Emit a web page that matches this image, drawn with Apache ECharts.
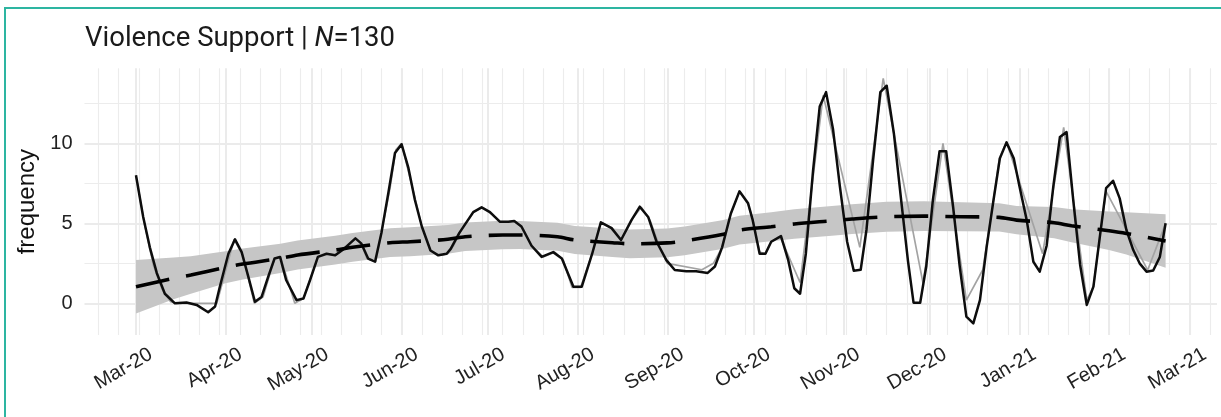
<!DOCTYPE html>
<html>
<head>
<meta charset="utf-8">
<script src="https://cdn.jsdelivr.net/npm/echarts@6/dist/echarts.min.js"></script>
<style>
html,body{margin:0;padding:0;background:#ffffff;}
#wrap{position:relative;width:1221px;height:417px;overflow:hidden;background:#fff;}
#c{position:absolute;left:0;top:0;width:1221px;height:417px;}
#frame{position:absolute;left:4px;top:7px;width:1400px;height:600px;border:2px solid #2db5a1;box-sizing:border-box;pointer-events:none;}
</style>
</head>
<body>
<div id="wrap"><div id="c"></div><div id="frame"></div></div>
<script>
// ---------------- data (x = days since 2020-03-01) ----------------
const START_DATE = '2020-03-01';

const blackDays = [0,2.5,4.8,7.2,10,13.5,17.5,21,25,27.4,
  29,32,34.3,36.6,38.9,41.2,43.5,45.8,48,49.9,
  52,55.6,58,60.3,63,66,69,72,76,78,
  80.4,82.8,85,87.4,89.7,92,94.3,96.6,99,102,
  104.7,107.6,109,112,116.8,119.7,122.6,126,129,131,
  133.5,137,140.5,144.5,147.5,151.5,154.4,158,161,164.7,
  168,171.6,174.5,177.4,180.3,183.7,186.6,190.6,194,198,
  200.5,203,206,209,212,213.6,216,218,220,223.4,
  225.9,228,230,232,234.5,236.8,239,241.4,243.8,246.3,
  248.6,251,253,255.3,257.8,260,262.5,265,267.4,269.3,
  271.6,273.7,276,278.3,280.6,283,285.3,287.6,290,292.3,
  294.6,297,299.2,301.5,304,306,308.5,310.8,313,315.4,
  317.7,320,322.3,324.6,327,329.3,331.6,334,336,338.4,
  340.7,343,345.4,347.6,350,352.3,354.6,356.6];
const blackValues = [8.0,5.4,3.5,1.9,0.6,0.0,0.05,-0.1,-0.56,-0.2,
  1.0,3.1,4.0,3.2,1.67,0.1,0.4,1.67,2.8,2.9,
  1.46,0.2,0.3,1.46,2.9,3.1,3.0,3.4,4.06,3.75,
  2.8,2.6,4.4,6.9,9.4,9.94,8.5,6.46,4.8,3.3,
  3.0,3.1,3.4,4.4,5.7,6.0,5.7,5.1,5.1,5.15,
  4.8,3.6,2.9,3.2,2.8,1.04,1.04,3.1,5.06,4.7,
  3.96,5.2,6.04,5.4,3.85,2.7,2.08,2.0,2.0,1.9,
  2.3,3.5,5.6,7.0,6.25,5.2,3.1,3.1,3.85,4.2,
  2.7,0.94,0.6,3.1,8.3,12.3,13.2,10.9,7.3,3.85,
  2.04,2.1,4.6,8.96,13.2,13.6,10.6,6.46,2.6,0.04,
  0.04,2.3,6.46,9.5,9.5,6.04,2.3,-0.83,-1.25,0.2,
  3.5,6.46,9.06,10.06,9.06,7.3,5.2,2.6,1.98,3.6,
  7.3,10.4,10.7,6.46,2.4,-0.1,1.04,4.4,7.2,7.66,
  6.56,4.6,3.33,2.5,1.98,2.05,2.9,5.0];

const grayDays = [0,3,6,9,12,14,28,34,37,41,
  44,48,50,55,58,63,66,69,72,76,
  78,80,83,85,88,90,92,94,97,99,
  102,105,108,110,112,117,120,123,126,129,
  131,134,137,141,145,148,151,154,158,161,
  165,168,172,175,178,181,184,196,200,203,
  206,209,212,214,216,218,220,223,230,238,
  250.7,258.8,272.6,279.5,287.6,293.3,297,299,301.5,314,
  321.3,329.3,331.6,334,336,350.4,356.6];
const grayValues = [8.0,4.9,2.4,0.9,0.1,0.0,0.0,4.0,3.0,0.0,
  0.4,2.8,2.9,0.0,0.3,2.9,3.1,3.0,3.4,4.06,
  3.75,2.8,2.6,4.4,7.2,9.6,10.0,8.5,6.3,4.8,
  3.3,3.0,3.1,3.6,4.4,5.7,6.0,5.6,5.1,5.1,
  5.15,4.7,3.6,2.9,3.2,2.7,1.0,1.0,3.1,5.06,
  4.7,3.96,5.3,6.0,5.2,3.7,2.5,2.1,2.5,3.5,
  5.6,7.0,6.2,5.0,3.2,3.1,3.85,4.2,1.3,13.0,
  3.5,14.06,1.25,10.0,0.2,2.1,6.46,9.06,10.1,3.1,
  11.0,0.2,1.04,4.4,7.0,2.08,5.0];

const trendDays = [0,13,19,31,37,50,56,69,75,88,95,108,114,127,133,146,152,165,171,184,
  190,203,209,220,228,241,248,260,273,286,299,305,318,324,337,343,356.6];
const trendValues = [1.04,1.56,1.77,2.25,2.46,2.81,3.02,3.33,3.5,3.79,3.85,4.0,4.16,4.27,4.27,4.16,3.96,3.79,3.72,3.78,
  3.9,4.3,4.58,4.79,4.96,5.16,5.27,5.41,5.45,5.41,5.37,5.2,5.04,4.85,4.54,4.37,3.89];
const bandLower = [-0.63,0.26,0.60,1.25,1.49,1.89,2.11,2.43,2.6,2.89,2.95,3.1,3.27,3.38,3.39,3.28,3.08,2.9,2.82,2.88,
  3.0,3.4,3.68,3.88,4.04,4.23,4.34,4.47,4.52,4.51,4.49,4.32,4.06,3.82,3.34,3.05,2.22];
const bandUpper = [2.71,2.86,2.94,3.25,3.43,3.73,3.93,4.23,4.4,4.69,4.75,4.9,5.05,5.16,5.15,5.04,4.84,4.68,4.62,4.68,
  4.8,5.2,5.48,5.7,5.88,6.09,6.2,6.35,6.38,6.31,6.25,6.08,6.02,5.88,5.74,5.69,5.56];

const monthLabels = ['Mar-20','Apr-20','May-20','Jun-20','Jul-20','Aug-20','Sep-20','Oct-20','Nov-20','Dec-20','Jan-21','Feb-21','Mar-21'];
const monthStarts = ['2020-03-01','2020-04-01','2020-05-01','2020-06-01','2020-07-01','2020-08-01','2020-09-01',
  '2020-10-01','2020-11-01','2020-12-01','2021-01-01','2021-02-01','2021-03-01'];
const yLabelValues = [0,5,10];
const yMajorGrid = [0,5,10];
const yMinorGrid = [2.5,7.5,12.5];
const firstMonday = '2020-02-17';

// ---------------- helpers ----------------
const DAY = 86400000;
const ts = s => Date.parse(s + 'T00:00:00Z');
const t0 = ts(START_DATE);
const dayOf = s => Math.round((ts(s) - t0) / DAY);
const pairs = (ds, vs) => ds.map((d, i) => [d, vs[i]]);

const xMin = -17.83;
const xMax = 374.4;
const labelShift = 5.2;
const monthDays = monthStarts.map(dayOf);
const labelPos = monthDays.map(d => d + labelShift);

const vLines = [];
for (let d = dayOf(firstMonday); d <= xMax; d += 7) {
  vLines.push({ xAxis: d, lineStyle: { width: 1.1, color: '#ececec' } });
}
monthDays.forEach(d => vLines.push({ xAxis: d, lineStyle: { width: 2, color: '#ebebeb' } }));
const hLines = yMinorGrid.map(v => ({ yAxis: v, lineStyle: { width: 1.1, color: '#ececec' } }))
  .concat(yMajorGrid.map(v => ({ yAxis: v, lineStyle: { width: 1.8, color: '#ebebeb' } })));

const axisFont = 'Liberation Sans, Arial, sans-serif';

const chart = echarts.init(document.getElementById('c'), null, { renderer: 'canvas' });
chart.setOption({
  animation: false,
  backgroundColor: '#ffffff',
  title: {
    left: 85, top: 24, padding: 0,
    text: '{a|Violence Support | }{b|N}{a|=130}',
    textStyle: {
      fontWeight: 'normal',
      rich: {
        a: { fontFamily: 'Roboto', fontSize: 27.5, fontWeight: 'normal', color: '#1a1a1a', lineHeight: 30 },
        b: { fontFamily: 'Roboto', fontSize: 27.5, fontWeight: 'normal', fontStyle: 'italic', color: '#1a1a1a', lineHeight: 30 }
      }
    }
  },
  grid: { left: 84.5, right: 4, top: 68.3, bottom: 82, containLabel: false, outerBoundsMode: 'none' },
  xAxis: {
    type: 'value', min: xMin, max: xMax,
    axisLine: { show: false }, axisTick: { show: false },
    splitLine: { show: false }, minorSplitLine: { show: false },
    axisLabel: {
      customValues: labelPos,
      rotate: 30, margin: 18,
      fontFamily: axisFont, fontSize: 20, color: '#222222',
      formatter: function (val) {
        let best = 0, bd = Infinity;
        labelPos.forEach((p, i) => { const d = Math.abs(p - val); if (d < bd) { bd = d; best = i; } });
        return monthLabels[best];
      }
    }
  },
  yAxis: {
    type: 'value', min: -1.98, max: 14.69,
    name: 'frequency', nameLocation: 'middle', nameGap: 44,
    nameTextStyle: { fontFamily: axisFont, fontSize: 24, color: '#111111' },
    axisLine: { show: false }, axisTick: { show: false },
    splitLine: { show: false },
    axisLabel: { customValues: yLabelValues, margin: 12, fontFamily: axisFont, fontSize: 20, color: '#222222' }
  },
  series: [
    {
      name: 'grid', type: 'line', data: [], z: 0, silent: true,
      markLine: {
        z: 0, zlevel: 0,
        silent: true, symbol: ['none', 'none'], label: { show: false }, animation: false,
        lineStyle: { type: 'solid' },
        emphasis: { disabled: true },
        data: vLines.concat(hLines)
      }
    },
    {
      name: 'band', type: 'custom', z: 2, silent: true,
      data: [[trendDays[0], bandLower[0]]],
      renderItem: function (params, api) {
        const pts = [];
        for (let i = 0; i < trendDays.length; i++) pts.push(api.coord([trendDays[i], bandUpper[i]]));
        for (let i = trendDays.length - 1; i >= 0; i--) pts.push(api.coord([trendDays[i], bandLower[i]]));
        return { type: 'polygon', shape: { points: pts }, style: { fill: '#c6c6c6', stroke: null } };
      }
    },
    {
      name: 'raw', type: 'line', data: pairs(grayDays, grayValues), showSymbol: false, symbol: 'none',
      lineStyle: { color: '#a3a3a3', width: 1.7 }, z: 3, silent: true
    },
    {
      name: 'smooth', type: 'line', data: pairs(blackDays, blackValues), showSymbol: false, symbol: 'none',
      lineStyle: { color: '#0d0d0d', width: 2.5, join: 'round' }, z: 4, silent: true
    },
    {
      name: 'trend', type: 'line', data: pairs(trendDays, trendValues), showSymbol: false, symbol: 'none',
      smooth: 0.3,
      lineStyle: { color: '#000000', width: 3.6, type: [34, 17], cap: 'butt' }, z: 5, silent: true
    }
  ]
});
</script>
</body>
</html>
